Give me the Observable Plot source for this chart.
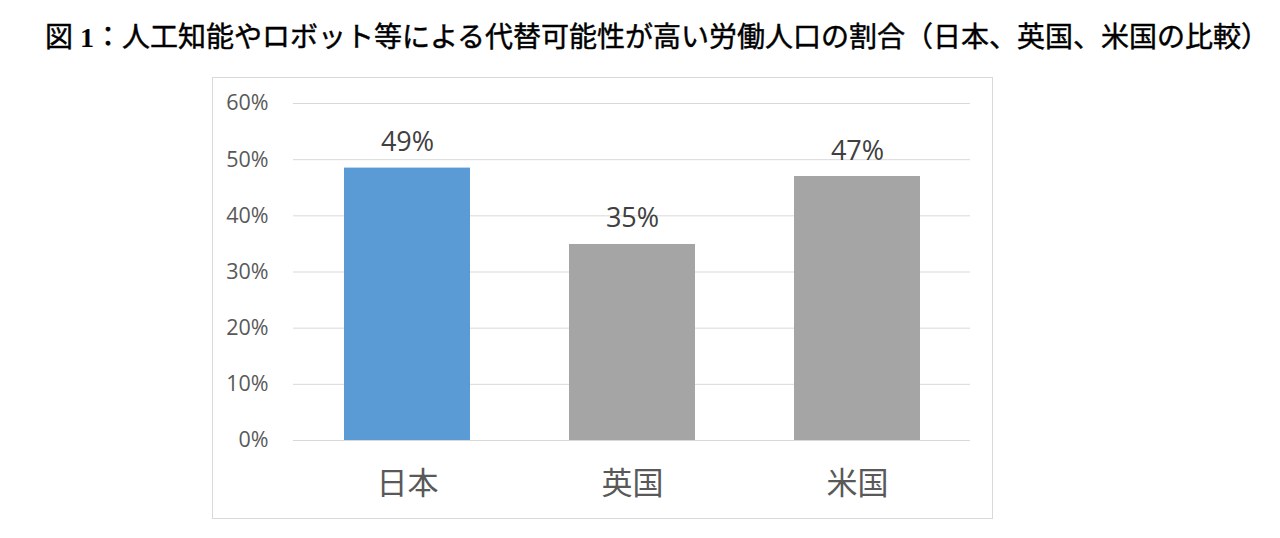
<!DOCTYPE html>
<html>
<head>
<meta charset="utf-8">
<script src="https://cdn.jsdelivr.net/npm/d3@7"></script>
<script src="https://cdn.jsdelivr.net/npm/@observablehq/plot@0.6"></script>
<style>
  html, body { margin: 0; padding: 0; background: #fff; }
  #title {
    position: absolute; left: 17px; top: 0; width: 1280px; height: 70px;
    display: flex; align-items: center; justify-content: center;
    font-family: "Liberation Serif", "Noto Sans CJK JP", serif;
    font-weight: normal; font-size: 28px; color: #000; white-space: nowrap;
    -webkit-text-stroke: 0.45px #000;
  }
  #title b { font-family: "Liberation Serif", serif; font-weight: bold; -webkit-text-stroke: 0; }
  #box {
    position: absolute; left: 212px; top: 77px; width: 779px; height: 440px;
    border: 1px solid #D9D9D9;
  }
  #box svg { display: block; }
</style>
</head>
<body>
<div id="title"><span>図&nbsp;<b>1</b>：人工知能やロボット等による代替可能性が高い労働人口の割合（日本、英国、米国の比較）</span></div>
<div id="box"></div>
<script>
const countries = ["日本", "英国", "米国"];
const shares = [0.485, 0.349, 0.470];
const valueLabels = ["49%", "35%", "47%"];
const barColors = ["#5B9BD5", "#A5A5A5", "#A5A5A5"];
const yTicks = [0, 0.1, 0.2, 0.3, 0.4, 0.5, 0.6];

const data = countries.map((c, i) => ({country: c, share: shares[i], label: valueLabels[i], color: barColors[i]}));

const font = "'Open Sans', 'Noto Sans CJK JP', sans-serif";

const chart = Plot.plot({
  width: 779,
  height: 440,
  marginLeft: 80,
  marginRight: 22,
  marginTop: 25,
  marginBottom: 78,
  style: {fontFamily: font, background: "#fff"},
  x: {domain: countries, paddingInner: 0.44, paddingOuter: 0.22, label: null},
  y: {domain: [0, 0.6], label: null},
  marks: [
    Plot.ruleY(yTicks, {stroke: "#D9D9D9", strokeWidth: 1}),
    Plot.barY(data, {x: "country", y: "share", fill: "color"}),
    Plot.text(data, {x: "country", y: "share", text: "label", lineAnchor: "bottom", dy: -17, fontSize: 27, fill: "#404040"}),
    Plot.axisY({ticks: yTicks, tickFormat: d => Math.round(d * 100) + "%", tickSize: 0, tickPadding: 25, fontSize: 21.5, fill: "#595959", label: null}),
    Plot.axisX({tickSize: 0, tickPadding: 31, fontSize: 31, fill: "#595959", label: null})
  ]
});
document.getElementById("box").appendChild(chart);
</script>
</body>
</html>
